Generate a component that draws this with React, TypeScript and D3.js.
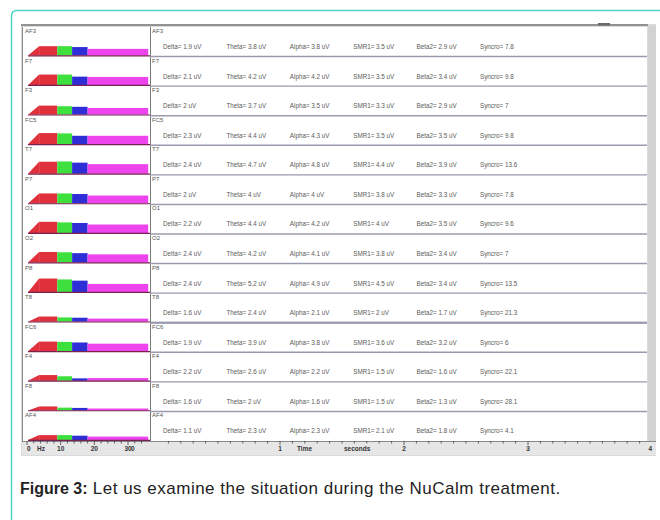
import React from "react";
import * as d3 from "d3";

const channels = ["AF3", "F7", "F3", "FC5", "T7", "P7", "O1", "O2", "P8", "T8", "FC6", "F4", "F8", "AF4"];
const delta = [1.9, 2.1, 2, 2.3, 2.4, 2, 2.2, 2.4, 2.4, 1.6, 1.9, 2.2, 1.6, 1.1];
const theta = [3.8, 4.2, 3.7, 4.4, 4.7, 4, 4.4, 4.2, 5.2, 2.4, 3.9, 2.6, 2, 2.3];
const alpha = [3.8, 4.2, 3.5, 4.3, 4.8, 4, 4.2, 4.1, 4.9, 2.1, 3.8, 2.2, 1.6, 2.3];
const smr1 = [3.5, 3.5, 3.3, 3.5, 4.4, 3.8, 4, 3.8, 4.5, 2, 3.6, 1.5, 1.5, 2.1];
const beta2 = [2.9, 3.4, 2.9, 3.5, 3.9, 3.3, 3.5, 3.4, 3.4, 1.7, 3.2, 1.6, 1.3, 1.8];
const syncro = [7.8, 9.8, 7, 9.8, 13.6, 7.8, 9.6, 7, 13.5, 21.3, 6, 22.1, 28.1, 4.1];

const bandNames = ["Delta", "Theta", "Alpha", "SMR1", "Beta2", "Syncro"];
// frequency ranges (Hz) of the coloured spectrum blocks
const bandRanges: [number, number][] = [[0.3, 3.6], [3.6, 9], [9, 13.4], [13.4, 18], [18, 36]];
const bandColors = ["#e0303c", "#e0303c", "#3ee03e", "#2e2ed6", "#ee44ee"];
const freqTicks = [0, 10, 20, 30];
const timeTicks = [1, 2, 3, 4];

const W = 660, H = 520;
const top = 27, bottom = 441;
const leftX0 = 23, leftX1 = 150, rightX1 = 647;
const small = "Liberation Sans Narrow, Liberation Sans, Arial";

export default function App() {
  const rowScale = d3.scaleBand<string>().domain(channels).range([top, bottom]);
  const rh = rowScale.bandwidth();
  const fx = d3.scaleLinear().domain([0, 30]).range([27, 128]);
  const tx = d3.scaleLinear().domain([0, 4]).range([156, 652]);
  const hy = d3.scaleLinear().domain([1, 5]).range([1, 13]);
  const colX = d3.scalePoint<string>().domain(bandNames).range([163, 480]);

  const fmt = (v: number) => String(v);
  const minorTime = d3.range(1, 40).map((i) => i / 10);
  const minorFreq = d3.range(0, 36, 2);

  return (
    <svg width={W} height={H} style={{ display: "block", position: "absolute", left: 0, top: 0 }}>
      <rect x={0} y={0} width={W} height={H} fill="#ffffff" />
      {/* teal frame */}
      <path d={`M11.5,${H} L11.5,16 Q11.5,10.5 17,10.5 L${W},10.5`} fill="none" stroke="#4fd2be" strokeWidth={1.5} />

      {/* screenshot frame */}
      <rect x={21} y={24} width={635} height={432} fill="#dadada" />
      <line x1={21} x2={648} y1={25} y2={25} stroke="#7a7a7a" strokeWidth={1.5} />
      <rect x={648} y={26} width={8} height={415} fill="#d2d2d2" />
      <rect x={598} y={23} width={12} height={2.5} fill="#6a6a6a" />
      <rect x={leftX0} y={top} width={leftX1 - leftX0} height={bottom - top} fill="#ffffff" />
      <rect x={leftX1 + 1} y={top} width={rightX1 - leftX1 - 1} height={bottom - top} fill="#ffffff" />
      <line x1={leftX0 - 0.5} x2={leftX0 - 0.5} y1={top} y2={bottom} stroke="#8a8a8a" />
      <line x1={leftX1 + 0.5} x2={leftX1 + 0.5} y1={top} y2={bottom} stroke="#7a7a7a" />

      {channels.map((ch, i) => {
        const y0 = rowScale(ch)!;
        const base = y0 + rh - 1;
        const vals = [theta[i], theta[i], alpha[i], smr1[i], beta2[i]];
        const isDark = ch === "T8";
        return (
          <g key={ch}>
            {i > 0 && (
              <line x1={leftX1} x2={rightX1} y1={y0} y2={y0} stroke="#9a9ab0" strokeWidth={1.4} />
            )}
            {isDark && (
              <line x1={leftX1} x2={rightX1} y1={y0 + rh} y2={y0 + rh} stroke="#5c5c88" strokeWidth={1.8} />
            )}
            {bandRanges.map((r, b) => {
              const h = hy(vals[b]);
              if (b === 0) {
                const pts = [
                  [fx(r[0]), base],
                  [fx(r[1]), base - h],
                  [fx(r[1]), base],
                ];
                return <polygon key={b} points={pts.map((p) => p.join(",")).join(" ")} fill={bandColors[b]} />;
              }
              return (
                <rect key={b} x={fx(r[0])} y={base - h} width={fx(r[1]) - fx(r[0])} height={h} fill={bandColors[b]} />
              );
            })}
            <line x1={fx(0.3)} x2={leftX1} y1={base + 0.3} y2={base + 0.3} stroke="#7a2050" strokeWidth={1.2} />
            <text x={leftX0 + 2} y={y0 + 6} fontSize={6} fontFamily={small} fill="#555">{ch}</text>
            <text x={leftX1 + 2} y={y0 + 6} fontSize={6} fontFamily={small} fill="#555">{ch}</text>
            {bandNames.map((bn, b) => {
              const v = [delta, theta, alpha, smr1, beta2, syncro][b][i];
              const label = bn === "Syncro" ? `${bn}= ${fmt(v)}` : `${bn}= ${fmt(v)} uV`;
              return (
                <text key={bn} x={colX(bn)} y={y0 + 22} fontSize={6.3} fontFamily={small} fill="#5a5a5a">
                  {label}
                </text>
              );
            })}
          </g>
        );
      })}

      {/* bottom axis strip */}
      <rect x={leftX0 - 1} y={bottom} width={656 - leftX0 + 1} height={14} fill="#e6e6e6" />
      <line x1={leftX0 - 1} x2={656} y1={bottom + 0.5} y2={bottom + 0.5} stroke="#888" />
      {minorFreq.map((f) => (
        <line key={"mf" + f} x1={fx(f)} x2={fx(f)} y1={bottom} y2={bottom + (f % 10 === 0 ? 4 : 2.5)} stroke="#444" strokeWidth={0.8} />
      ))}
      {minorTime.map((t) => (
        <line key={"mt" + t} x1={tx(t)} x2={tx(t)} y1={bottom} y2={bottom + (Math.abs(t - Math.round(t)) < 1e-6 ? 4 : 2.5)} stroke="#444" strokeWidth={0.8} />
      ))}
      {freqTicks.map((f) => (
        <text key={"ft" + f} x={fx(f)} y={bottom + 10} fontSize={6.5} fontWeight="bold" textAnchor={f === 0 ? "start" : "middle"} fontFamily={small} fill="#333">
          {f}
        </text>
      ))}
      <text x={37} y={bottom + 10} fontSize={6.5} fontWeight="bold" fontFamily={small} fill="#333">Hz</text>
      <text x={131} y={bottom + 10} fontSize={6.5} fontWeight="bold" fontFamily={small} fill="#333">0</text>
      {timeTicks.map((t) => (
        <text key={"tt" + t} x={tx(t)} y={bottom + 10} fontSize={6.5} fontWeight="bold" textAnchor={t === 4 ? "end" : "middle"} fontFamily={small} fill="#333">
          {t}
        </text>
      ))}
      <text x={297} y={bottom + 10} fontSize={6.5} fontWeight="bold" fontFamily={small} fill="#333">Time</text>
      <text x={344} y={bottom + 10} fontSize={6.5} fontWeight="bold" fontFamily={small} fill="#333">seconds</text>

      {/* caption */}
      <text x={20} y={494} fontFamily="Liberation Sans, Arial, sans-serif" fill="#222">
        <tspan fontWeight="bold" fontSize={16}>Figure 3:</tspan>
        <tspan fontSize={17} letterSpacing={0.5}> Let us examine the situation during the NuCalm treatment.</tspan>
      </text>
    </svg>
  );
}
